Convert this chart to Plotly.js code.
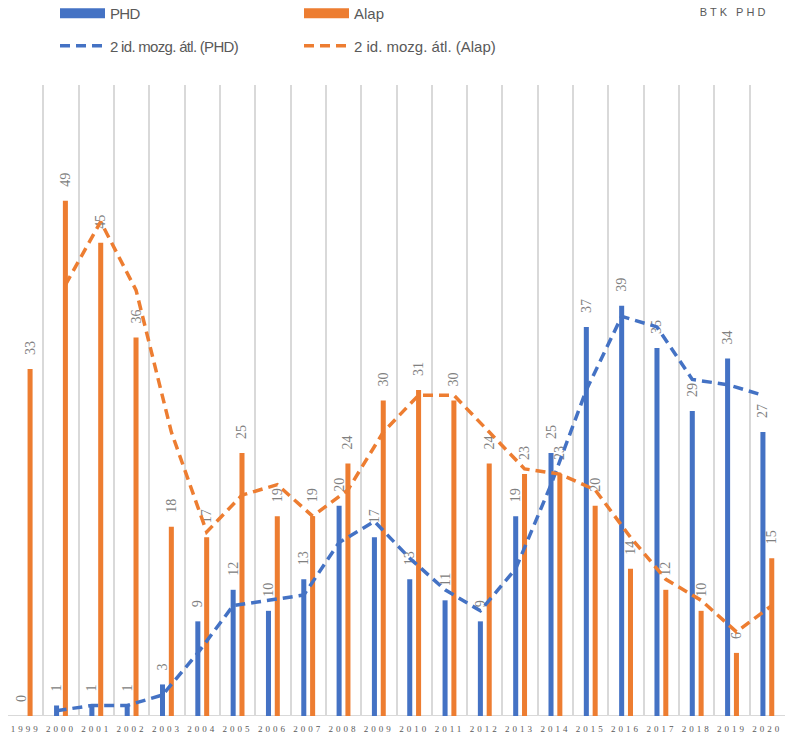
<!DOCTYPE html>
<html><head><meta charset="utf-8">
<script src="https://cdn.plot.ly/plotly-3.0.1.min.js"></script>
<style>
body{margin:0;background:#fff}#c{width:790px;height:737px}
#c .xtick text{letter-spacing:3px}
#c .gtitle{letter-spacing:3px}
#c .legendtext{letter-spacing:-0.7px}
</style>
</head><body><div id="c"></div>
<script>
var years = [1999,2000,2001,2002,2003,2004,2005,2006,2007,2008,2009,2010,2011,2012,2013,2014,2015,2016,2017,2018,2019,2020];
var phd  = [0,1,1,1,3,9,12,10,13,20,17,13,11,9,19,25,37,39,35,29,34,27];
var alap = [33,49,45,36,18,17,25,19,19,24,30,31,30,24,23,23,20,14,12,10,6,15];
// 2-period moving averages as drawn (from 2000 on)
var maYears = [2000,2001,2002,2003,2004,2005,2006,2007,2008,2009,2010,2011,2012,2013,2014,2015,2016,2017,2018,2019,2020];
var maPhd  = [0.5,1,1,2,6,10.5,11,11.5,16.5,18.5,15,12,10,14,22,31,38,37,32,31.5,30.5];
var maAlap = [41,47,40.5,27,17.5,21,22,19,21.5,27,30.5,30.5,27,23.5,23,21.5,17,13,11,8,10.5];
var tickLabels = years.map(String);

var BLUE = '#4472C4', ORANGE = '#ED7D31', LBL = '#808080';
var OFF = 0.125;
var PAD = '\u00a0\u00a0\u00a0\u00a0';
var labelFont = {family:'Liberation Serif, DejaVu Serif, serif', size:14, color:LBL};

var traces = [
  {type:'bar', name:'PHD', x:years, y:phd, marker:{color:BLUE}, showlegend:false,
   text:phd.map(function(v){return PAD+v;}), textposition:'outside', textangle:-90, constraintext:'none',
   cliponaxis:false, textfont:labelFont},
  {type:'bar', name:'Alap', x:years, y:alap, marker:{color:ORANGE}, showlegend:false,
   text:alap.map(function(v){return PAD+v;}), textposition:'outside', textangle:-90, constraintext:'none',
   cliponaxis:false, textfont:labelFont},
  {type:'scatter', mode:'lines', name:'2 id. mozg. átl. (PHD)',
   x:maYears.map(function(y){return y-OFF;}), y:maPhd,
   line:{color:BLUE, width:3.5, dash:'10px,6px'},
   legend:'legend', legendgroup:'mp', legendrank:2, cliponaxis:false},
  {type:'scatter', mode:'lines', name:'2 id. mozg. átl. (Alap)',
   x:maYears.map(function(y){return y+OFF;}), y:maAlap,
   line:{color:ORANGE, width:3.5, dash:'10px,6px'},
   legend:'legend2', legendgroup:'ma', legendrank:2, cliponaxis:false},
  // legend keys for the bar series (wide rectangle swatches)
  {type:'scatter', mode:'lines', name:'PHD', x:[null], y:[null], line:{color:BLUE, width:12},
   legend:'legend', legendgroup:'bp', legendrank:1},
  {type:'scatter', mode:'lines', name:'Alap', x:[null], y:[null], line:{color:ORANGE, width:12},
   legend:'legend2', legendgroup:'ba', legendrank:1}
];

var legFont = {family:'Liberation Sans, sans-serif', size:15, color:'#595959'};
function leg(x){
  return {orientation:'v', x:x, xref:'container', xanchor:'left', y:1+(85+3)/631, yref:'paper', yanchor:'top',
          font:legFont, itemwidth:45, tracegroupgap:10, traceorder:'grouped', bgcolor:'rgba(0,0,0,0)'};
}
var layout = {
  width:790, height:737,
  margin:{l:8, r:5, t:85, b:21, autoexpand:false},
  paper_bgcolor:'#fff', plot_bgcolor:'#fff',
  barmode:'group', bargap:0.5, bargroupgap:0.43,
  showlegend:true,
  title:{text:'BTK PHD', x:734/790, xref:'container', xanchor:'center',
         y:1-12/737, yref:'container', yanchor:'middle',
         font:{family:'Liberation Sans, sans-serif', size:11, color:'#595959'}},
  legend:leg(55/790),
  legend2:leg(299/790),
  xaxis:{range:[1998.5,2020.5], tickmode:'array', tickvals:years, ticktext:tickLabels, tickangle:0,
         showgrid:false, zeroline:false, showline:false, ticks:'', automargin:false, ticklabelstandoff:6,
         tickfont:{family:'Liberation Serif, DejaVu Serif, serif', size:9, color:'#595959'},
         minor:{tickmode:'linear', tick0:1998.5, dtick:1, showgrid:true, gridcolor:'#d9d9d9', gridwidth:2, ticks:''},
         fixedrange:true},
  yaxis:{range:[0,60], showgrid:false, zeroline:false, showticklabels:false, showline:false, fixedrange:true, automargin:false},
  shapes:[{type:'line', xref:'paper', yref:'y', x0:0, x1:1, y0:0, y1:0, line:{color:'#d9d9d9', width:2}, layer:'below'}]
};
Plotly.newPlot('c', traces, layout, {displayModeBar:false, staticPlot:true});
</script></body></html>
